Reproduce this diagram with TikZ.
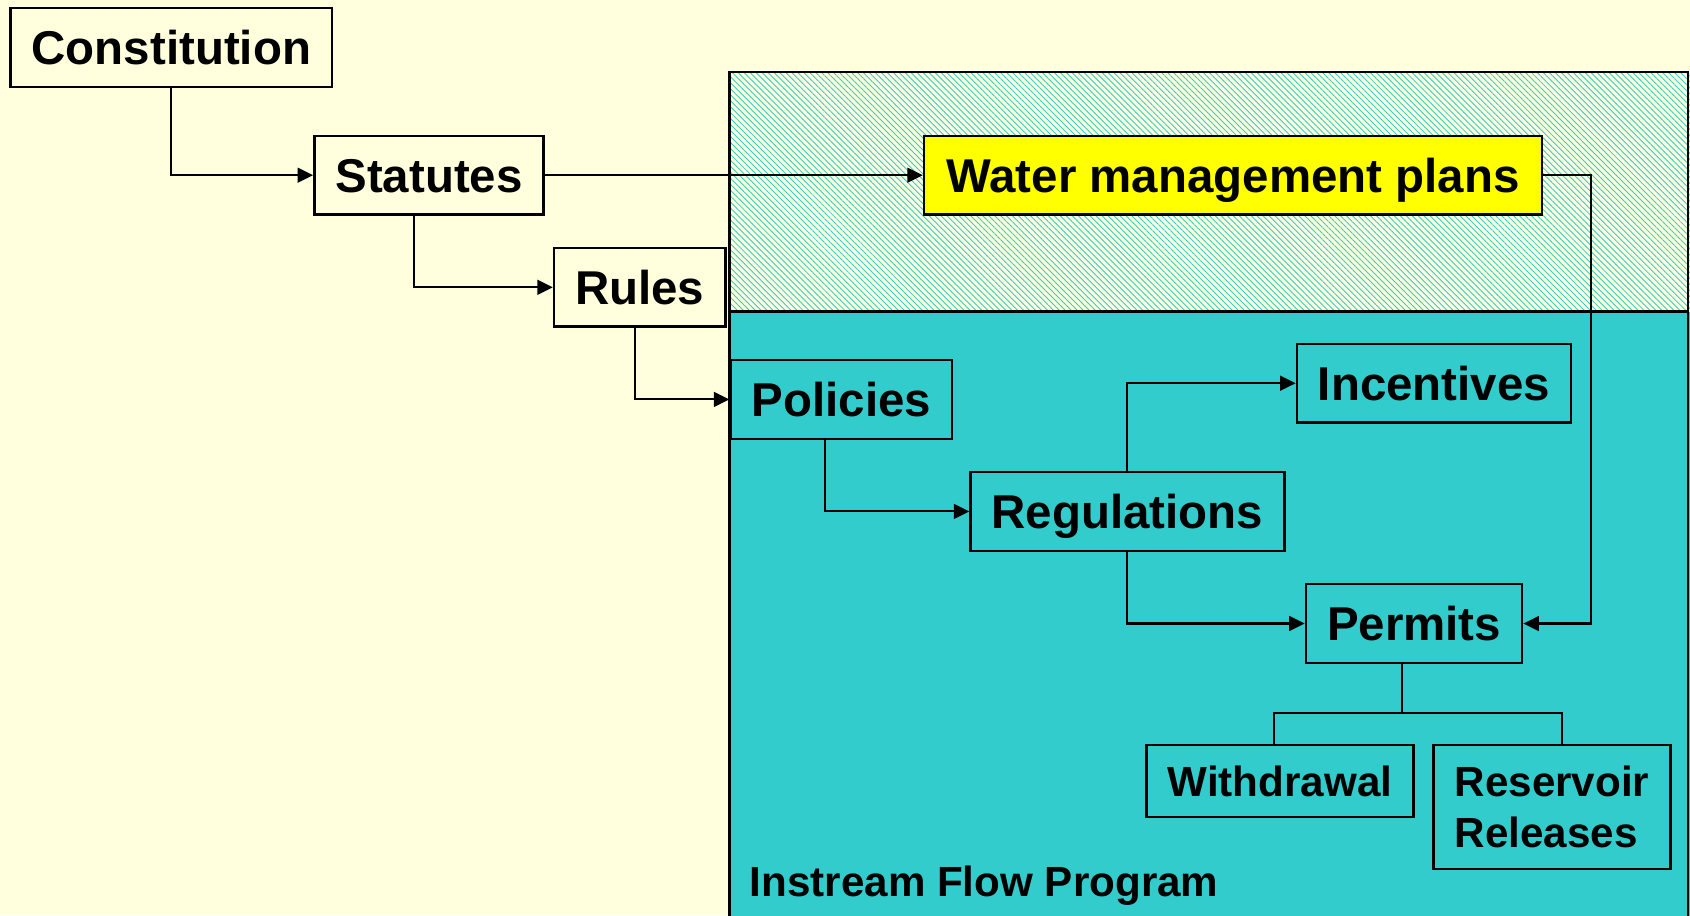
\documentclass[tikz,border=0pt]{standalone}
\usepackage{fontspec}
\setmainfont{Liberation Sans}
\usetikzlibrary{arrows.meta, patterns.meta}
\definecolor{PaleCream}{HTML}{FFFFDD}
\definecolor{FlowTeal}{HTML}{33CCCC}
\definecolor{PlanYellow}{HTML}{FFFF00}
\newcommand\boxfont{\fontsize{13.5}{16}\selectfont\bfseries}
\newcommand\leaffont{\fontsize{12}{14.6}\selectfont\bfseries}

\begin{document}
\begin{tikzpicture}[
  plain/.style={rectangle, draw=black, line width=0.7pt, text=black, inner xsep=6pt, inner ysep=0pt},
  box/.style={plain, fill=PaleCream, minimum height=0.787cm, text height=9.7pt, text depth=0pt, font=\boxfont},
  tealbox/.style={box, fill=FlowTeal},
  planbox/.style={box, fill=PlanYellow},
  leafbox/.style={plain, fill=FlowTeal, font=\leaffont},
  arrow/.style={-{Triangle[length=4.4pt, width=4.2pt]}, line width=0.6pt},
  link/.style={line width=0.6pt}
]
  \path[use as bounding box, fill=PaleCream] (0,0) rectangle (16.9,-9.15);

  % program area: hatched band on top, solid teal below
  \fill[pattern={Lines[angle=-45, distance=1.2pt, line width=0.25pt]}, pattern color=FlowTeal]
    (7.297,-0.722) rectangle (16.95,-3.115);
  \fill[FlowTeal] (7.297,-3.115) rectangle (16.95,-9.2);
  \draw[line width=0.7pt] (7.297,-9.2) |- (16.88,-0.722) -- (16.88,-9.2);
  \draw[line width=0.7pt] (7.297,-3.115) -- (16.88,-3.115);

  \node[box] (constitution) at (1.714,-0.474) {Constitution};
  \node[box] (statutes) at (4.29,-1.752) {Statutes};
  \node[box] (rules) at (6.397,-2.873) {Rules};
  \node[planbox, inner xsep=6.4pt] (plans) at (12.33,-1.752) {Water management plans};
  \node[tealbox] (policies) at (8.413,-3.994) {Policies};
  \node[tealbox] (incentives) at (14.34,-3.832) {Incentives};
  \node[tealbox] (regulations) at (11.274,-5.114) {Regulations};
  \node[tealbox] (permits) at (14.14,-6.235) {Permits};
  \node[leafbox, anchor=north, minimum height=0.72cm, text height=8.6pt, text depth=0pt]
    (withdrawal) at (12.799,-7.437) {Withdrawal};
  \node[leafbox, anchor=north, minimum height=1.239cm, align=left]
    (releases) at (15.52,-7.437) {Reservoir\\Releases};
  \node[font=\leaffont, anchor=base west, inner sep=0pt] (program) at (7.49,-8.967) {Instream Flow Program};

  \draw[arrow] (constitution) |- (statutes);
  \draw[arrow] (statutes) -- (plans);
  \draw[arrow] ([xshift=-1.5mm]statutes.south) |- (rules);
  \draw[arrow] ([xshift=-0.5mm]rules.south) |- (policies);
  \draw[arrow] ([xshift=-1.6mm]policies.south) |- (regulations);
  \draw[arrow] (regulations) |- (incentives);
  \draw[arrow] (regulations) |- (permits);
  \draw[arrow] (plans.east) -- ++(0.475,0) |- (permits.east);

  % permits split into the two kinds
  \draw[link] ([xshift=-1.2mm]permits.south) -- ++(0,-0.486) coordinate (fork);
  \draw[link] ([xshift=-0.6mm]withdrawal.north) |- (fork) -| ([xshift=1mm]releases.north);
\end{tikzpicture}
\end{document}
